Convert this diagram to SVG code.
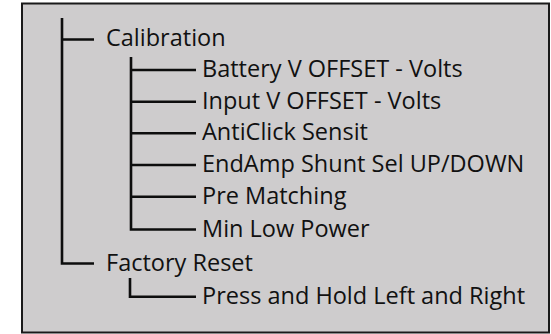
<svg xmlns="http://www.w3.org/2000/svg" width="551" height="334" viewBox="0 0 551 334">
<style>
.t{font-family:"Open Sans","Liberation Sans",sans-serif;font-size:23.5px;fill:#111}
.c{fill:none;stroke:#0d0d0d;stroke-width:2.6}
</style>
<rect x="22" y="3.5" width="527" height="329" fill="#cecccd" stroke="#1a1a1a" stroke-width="2"/>
<g id="connectors">
<path class="c" d="M62 18V263.5H94M62 39.5H94"/>
<path class="c" d="M131 57V229.5H196M131 70H196M131 101.7H196M131 133.3H196M131 165H196M131 196.7H196"/>
<path class="c" d="M130 278V296.7H196"/>
</g>
<g id="calibration"><text class="t" x="106" y="46">Calibration</text></g>
<g id="battery"><text class="t" x="202" y="77">Battery V OFFSET - Volts</text></g>
<g id="input"><text class="t" x="202" y="108.5">Input V OFFSET - Volts</text></g>
<g id="anticlick"><text class="t" x="202" y="140">AntiClick Sensit</text></g>
<g id="endamp"><text class="t" x="202" y="172">EndAmp Shunt Sel UP/DOWN</text></g>
<g id="prematching"><text class="t" x="202" y="203.5">Pre Matching</text></g>
<g id="minlow"><text class="t" x="202" y="236.5">Min Low Power</text></g>
<g id="factory"><text class="t" x="106" y="271">Factory Reset</text></g>
<g id="press"><text class="t" x="202" y="303.5">Press and Hold Left and Right</text></g>
</svg>
